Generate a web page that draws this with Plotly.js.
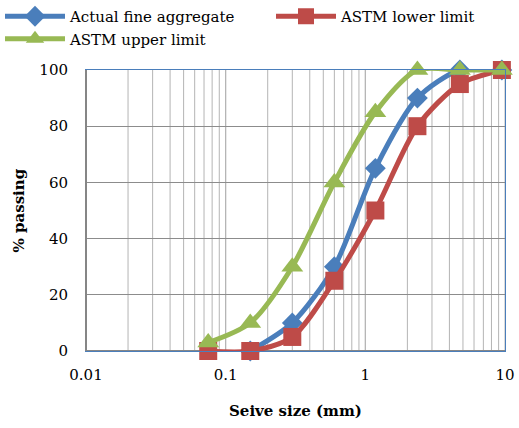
<!DOCTYPE html>
<html>
<head>
<script src="https://cdn.plot.ly/plotly-3.0.1.min.js"></script>
<style>html,body{margin:0;padding:0;background:#fff;}#chart{width:519px;height:428px;}</style>
</head>
<body>
<div id="chart"></div>
<script>
var sieveActual = [0.15, 0.3, 0.6, 1.18, 2.36, 4.75, 9.5];
var actualPassing = [0, 10, 30, 65, 90, 100, 100];
var sieveLimits = [0.075, 0.15, 0.3, 0.6, 1.18, 2.36, 4.75, 9.5];
var lowerLimit = [0, 0, 5, 25, 50, 80, 95, 100];
var upperLimit = [3, 10, 30, 60, 85, 100, 100, 100];
var xTickVals = [0.01, 0.1, 1, 10];
var xTickText = ['0.01', '0.1', '1', '10'];

var font = 'DejaVu Serif, Liberation Serif, serif';
var traces = [
  {x: sieveActual, y: actualPassing, name: 'Actual fine aggregate', mode: 'lines+markers', legend: 'legend', cliponaxis: false,
   line: {color: '#4a7ebb', width: 5, shape: 'spline', smoothing: 0.8},
   marker: {symbol: 'diamond', size: 16, color: '#4a7ebb'}},
  {x: sieveLimits, y: lowerLimit, name: 'ASTM lower limit', mode: 'lines+markers', legend: 'legend2', cliponaxis: false,
   line: {color: '#be4b48', width: 5, shape: 'spline', smoothing: 0.8},
   marker: {symbol: 'square', size: 18, color: '#be4b48'}},
  {x: sieveLimits, y: upperLimit, name: 'ASTM upper limit', mode: 'lines+markers', legend: 'legend', cliponaxis: false,
   line: {color: '#98b954', width: 5, shape: 'spline', smoothing: 0.8},
   marker: {symbol: 'triangle-up', size: 19, color: '#98b954'}}
];
var legendBase = {orientation: 'v', xref: 'container', yref: 'container', xanchor: 'left', yanchor: 'top',
  y: 1, itemwidth: 60, font: {family: font, size: 15}, tracegroupgap: 0, bgcolor: 'rgba(0,0,0,0)'};
var layout = {
  width: 519, height: 428,
  margin: {l: 86, r: 14, t: 70, b: 77, autoexpand: false},
  paper_bgcolor: '#fff', plot_bgcolor: '#fff',
  font: {family: font, size: 15, color: '#000'},
  showlegend: true,
  legend: Object.assign({}, legendBase, {x: 0}),
  legend2: Object.assign({}, legendBase, {x: 271 / 519}),
  xaxis: {type: 'log', range: [-2, 1], tickvals: xTickVals, ticktext: xTickText,
          showgrid: false, zeroline: false, showline: true, linecolor: '#4a7ebb', linewidth: 1, mirror: true,
          ticks: '', tickfont: {size: 15}, ticklabelstandoff: 10,
          title: {text: '<b>Seive size (mm)</b>', font: {size: 15}, standoff: 22}},
  yaxis: {range: [0, 100], dtick: 20, showgrid: true, gridcolor: '#8c8c8c', gridwidth: 1,
          zeroline: false, showline: true, linecolor: '#4a7ebb', linewidth: 1, mirror: true,
          ticks: '', tickfont: {size: 15}, ticklabelstandoff: 14},
  annotations: [{text: '<b>% passing</b>', xref: 'paper', yref: 'paper', x: (18 - 86) / 419, y: 0.5,
    xanchor: 'center', yanchor: 'middle', textangle: -90, showarrow: false, font: {family: font, size: 15}}],
  shapes: []
};
// minor log gridlines
var decades = [0.01, 0.1, 1];
decades.forEach(function(d){
  for (var k = 1; k <= 10; k++) {
    var v = d * k;
    if (k === 1 && d === 0.01) continue;
    layout.shapes.push({type: 'line', xref: 'x', yref: 'paper', x0: v, x1: v, y0: 0, y1: 1,
      line: {color: '#b4b4b4', width: 1}, layer: 'below'});
  }
});
// gray left and bottom axis lines
layout.shapes.push({type: 'line', xref: 'paper', yref: 'paper', x0: 0, x1: 0, y0: 0, y1: 1, line: {color: '#868686', width: 2}});
layout.shapes.push({type: 'line', xref: 'paper', yref: 'paper', x0: 0, x1: 1, y0: 0, y1: 0, line: {color: '#868686', width: 2}, layer: 'below'});
Plotly.newPlot('chart', traces, layout, {displayModeBar: false});
</script>
</body>
</html>
